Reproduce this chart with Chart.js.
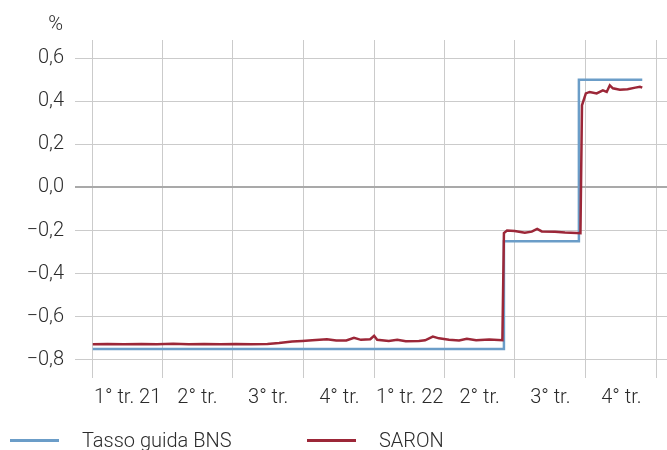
<!DOCTYPE html>
<html>
<head>
<meta charset="utf-8">
<script src="https://cdn.jsdelivr.net/npm/chart.js@4/dist/chart.umd.min.js"></script>
<style>
  body { margin: 0; background: #fff; }
  #wrap { position: relative; width: 667px; height: 450px; overflow: hidden; font-family: Roboto, "Liberation Sans", sans-serif; font-weight: 300; color: #2b2b2b; }
  #unit { position: absolute; right: 604px; top: 11px; font-size: 20px; }
  .leg { position: absolute; top: 428px; font-size: 20px; white-space: nowrap; }
  .leg i { position: absolute; top: 11px; height: 3px; width: 49px; }
</style>
</head>
<body>
<div id="wrap">
  <canvas id="chart" width="667" height="450"></canvas>
  <div id="unit">%</div>
  <div class="leg" style="left:10px"><i style="background:#6b9dc8"></i><span style="margin-left:72px">Tasso guida BNS</span></div>
  <div class="leg" style="left:307px"><i style="background:#9c2738"></i><span style="margin-left:72px">SARON</span></div>
</div>
<script>
// tassi in %
var quarterStarts = ['2021-01-01', '2021-04-01', '2021-07-01', '2021-10-01', '2022-01-01',
                     '2022-04-01', '2022-07-01', '2022-10-01', '2023-01-01'];
var quarterLabels = ['1° tr. 21', '2° tr.', '3° tr.', '4° tr.', '1° tr. 22', '2° tr.', '3° tr.', '4° tr.'];
var yTicks = [-0.8, -0.6, -0.4, -0.2, 0, 0.2, 0.4, 0.6];

var bnsDates = ['2021-01-01', '2022-06-17', '2022-09-22', '2022-12-13'];
var bnsValues = [-0.75, -0.25, 0.5, 0.5];

var saronDates = ['2021-01-01', '2021-01-20', '2021-02-10', '2021-03-05', '2021-03-25', '2021-04-15',
  '2021-05-05', '2021-05-25', '2021-06-15', '2021-07-05', '2021-07-25', '2021-08-15', '2021-08-30',
  '2021-09-16', '2021-09-29', '2021-10-12', '2021-10-31', '2021-11-12', '2021-11-25', '2021-12-05',
  '2021-12-14', '2021-12-26', '2021-12-31', '2022-01-04', '2022-01-19', '2022-01-30', '2022-02-10',
  '2022-02-27', '2022-03-07', '2022-03-17', '2022-03-25', '2022-04-07', '2022-04-20', '2022-04-30',
  '2022-05-12', '2022-05-29', '2022-06-15', '2022-06-17', '2022-06-21', '2022-07-01', '2022-07-14',
  '2022-07-23', '2022-07-30', '2022-08-05', '2022-08-22', '2022-09-04', '2022-09-19', '2022-09-24',
  '2022-09-26', '2022-10-01', '2022-10-06', '2022-10-15', '2022-10-23', '2022-10-28', '2022-11-01',
  '2022-11-05', '2022-11-14', '2022-11-24', '2022-12-04', '2022-12-10', '2022-12-13'];
var saronValues = [-0.727, -0.726, -0.728, -0.726, -0.727, -0.725,
  -0.727, -0.726, -0.727, -0.726, -0.727, -0.726, -0.722,
  -0.715, -0.712, -0.709, -0.704, -0.710, -0.710, -0.698,
  -0.707, -0.704, -0.688, -0.707, -0.712, -0.707, -0.714,
  -0.712, -0.709, -0.692, -0.700, -0.707, -0.710, -0.702,
  -0.709, -0.705, -0.709, -0.212, -0.200, -0.202, -0.210,
  -0.205, -0.192, -0.204, -0.206, -0.209, -0.211, -0.212,
  0.381, 0.436, 0.443, 0.436, 0.450, 0.443, 0.474,
  0.460, 0.453, 0.456, 0.463, 0.467, 0.463];

var t0 = Date.UTC(2021, 0, 1);
function day(s) {
  var p = s.split('-');
  return (Date.UTC(+p[0], p[1] - 1, +p[2]) - t0) / 86400000;
}
function pts(dates, values) {
  return dates.map(function(d, i) { return { x: day(d), y: values[i] }; });
}

var qDays = quarterStarts.map(day);
var qMid = [];
for (var i = 0; i < qDays.length - 1; i++) qMid.push((qDays[i] + qDays[i + 1]) / 2);

var xMin = -23, xMax = 743;
var font = { family: 'Roboto, "Liberation Sans", sans-serif', size: 20, weight: 300 };

new Chart(document.getElementById('chart'), {
  type: 'line',
  data: {
    datasets: [{
      label: 'SARON',
      data: pts(saronDates, saronValues),
      borderColor: '#9c2738',
      borderWidth: 2.5,
      pointRadius: 0
    }, {
      label: 'Tasso guida BNS',
      data: pts(bnsDates, bnsValues),
      borderColor: '#6b9dc8',
      borderWidth: 2.5,
      stepped: true,
      pointRadius: 0
    }]
  },
  options: {
    responsive: false,
    animation: false,
    layout: { padding: { top: 40, right: 0, bottom: 40, left: 0 } },
    plugins: { legend: { display: false }, tooltip: { enabled: false } },
    scales: {
      x: {
        type: 'linear', min: xMin, max: xMax,
        border: { display: false },
        grid: { color: '#cbcbcb', lineWidth: 1, drawTicks: false },
        ticks: { display: false },
        afterBuildTicks: function(s) { s.ticks = qDays.map(function(v) { return { value: v }; }); }
      },
      x2: {
        type: 'linear', position: 'bottom', min: xMin, max: xMax,
        border: { display: false },
        grid: { display: false },
        ticks: {
          font: font, color: '#2b2b2b', padding: 0, autoSkip: false, maxRotation: 0,
          callback: function(v, i) { return quarterLabels[i]; }
        },
        afterBuildTicks: function(s) { s.ticks = qMid.map(function(v) { return { value: v }; }); }
      },
      y: {
        min: -0.884, max: 0.684,
        border: { display: false },
        grid: {
          drawTicks: false,
          color: function(c) { return c.tick && c.tick.value === 0 ? '#a9a9a9' : '#cbcbcb'; },
          lineWidth: function(c) { return c.tick && c.tick.value === 0 ? 2 : 1; }
        },
        ticks: {
          font: font, color: '#2b2b2b', padding: 11,
          callback: function(v) { return v.toFixed(1).replace('.', ',').replace('-', '\u2212'); }
        },
        afterBuildTicks: function(s) { s.ticks = yTicks.map(function(v) { return { value: v }; }); },
        afterFit: function(s) { s.width = 75; }
      }
    }
  }
});
</script>
</body>
</html>
